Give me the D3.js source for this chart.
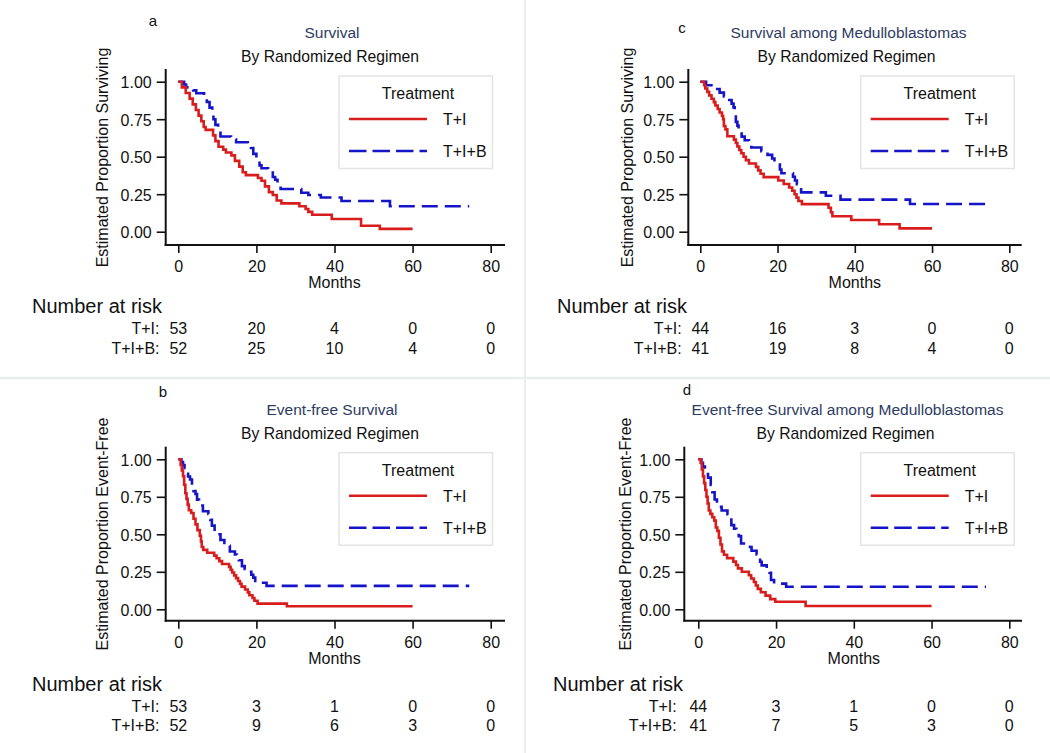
<!DOCTYPE html>
<html>
<head>
<meta charset="utf-8">
<script src="https://cdn.jsdelivr.net/npm/d3@7"></script>
<style>
  html, body { margin: 0; padding: 0; background: #fff; }
  svg text { font-family: "Liberation Sans", Arial, sans-serif; }
</style>
</head>
<body>
<svg id="chart" width="1050" height="753"></svg>
<script>
// ---------------- DATA ----------------
const panelLetters = ["a", "b", "c", "d"];
const panelTitles = ["Survival", "Event-free Survival", "Survival among Medulloblastomas", "Event-free Survival among Medulloblastomas"];
const subTitle = "By Randomized Regimen";
const yLabels = ["Estimated Proportion Surviving", "Estimated Proportion Event-Free", "Estimated Proportion Surviving", "Estimated Proportion Event-Free"];
const xLabel = "Months";
const xTicks = [0, 20, 40, 60, 80];
const yTicks = [0, 0.25, 0.5, 0.75, 1];
const seriesNames = ["T+I", "T+I+B"];
const legendTitle = "Treatment";
const riskTitle = "Number at risk";
const riskTimes = [0, 20, 40, 60, 80];

// Kaplan-Meier steps: [month, estimate from that month on]
const osAllTI = [[0,1],[0.9,0.962],[1.9,0.925],[2.9,0.887],[3.7,0.849],[4.5,0.811],[5.2,0.774],[5.9,0.736],[6.5,0.698],[7.0,0.679],[8.9,0.642],[9.5,0.604],[10.3,0.566],[11.5,0.547],[12.2,0.528],[13.6,0.509],[14.5,0.472],[15.6,0.434],[16.5,0.396],[17.3,0.377],[20.4,0.358],[21.3,0.34],[22.2,0.302],[23.2,0.264],[24.2,0.245],[25.2,0.208],[26.4,0.189],[31.0,0.17],[32.6,0.151],[33.3,0.132],[34.3,0.113],[39.3,0.085],[46.8,0.04],[51.6,0.019]];
const osAllTIB = [[0,1],[1.5,0.981],[2.0,0.962],[3.8,0.942],[4.6,0.923],[6.6,0.904],[7.3,0.865],[8.0,0.827],[8.7,0.788],[9.0,0.75],[9.5,0.712],[10.2,0.673],[10.8,0.635],[13.5,0.615],[14.8,0.596],[17.8,0.577],[18.6,0.558],[19.2,0.519],[20.0,0.481],[20.8,0.442],[21.3,0.423],[23.0,0.404],[24.2,0.365],[24.8,0.346],[25.4,0.308],[26.2,0.285],[31.5,0.26],[33.3,0.245],[36.5,0.228],[41.8,0.205],[54.2,0.17]];
const efsAllTI = [[0,1],[0.6,0.962],[0.9,0.925],[1.2,0.887],[1.5,0.83],[1.8,0.774],[2.1,0.736],[2.4,0.698],[2.7,0.66],[3.3,0.642],[3.9,0.604],[4.4,0.566],[4.9,0.528],[5.5,0.491],[5.8,0.453],[6.0,0.415],[6.4,0.396],[7.4,0.377],[9.2,0.358],[9.8,0.34],[10.5,0.321],[11.2,0.302],[13.0,0.283],[13.4,0.264],[13.8,0.245],[14.3,0.226],[14.8,0.208],[15.3,0.189],[15.8,0.17],[16.2,0.151],[17.1,0.132],[17.8,0.113],[18.2,0.094],[19.0,0.075],[19.5,0.057],[20.3,0.038],[27.8,0.02]];
const efsAllTIB = [[0,1],[0.8,0.981],[1.2,0.962],[1.6,0.942],[2.0,0.904],[2.5,0.885],[3.0,0.865],[3.5,0.827],[3.9,0.788],[4.4,0.769],[4.8,0.731],[5.3,0.712],[5.7,0.692],[6.3,0.654],[7.7,0.635],[8.2,0.596],[8.6,0.558],[9.3,0.519],[9.9,0.5],[10.8,0.462],[11.8,0.442],[12.5,0.423],[13.2,0.385],[14.5,0.365],[15.0,0.346],[15.5,0.327],[16.3,0.288],[17.0,0.269],[17.8,0.25],[18.7,0.23],[19.2,0.211],[19.7,0.177],[22.6,0.156]];
const osMedTI = [[0,1],[1.0,0.977],[1.3,0.955],[1.8,0.932],[2.3,0.909],[2.9,0.886],[3.5,0.864],[3.9,0.841],[4.5,0.818],[5.0,0.795],[5.6,0.773],[5.9,0.75],[6.1,0.705],[6.5,0.682],[7.0,0.636],[8.7,0.614],[9.2,0.591],[9.6,0.568],[10.1,0.545],[10.6,0.523],[11.2,0.5],[11.8,0.477],[12.6,0.455],[14.4,0.432],[15.0,0.409],[15.6,0.386],[16.4,0.364],[20.2,0.341],[21.6,0.318],[23.0,0.295],[23.8,0.273],[24.4,0.25],[24.9,0.227],[25.4,0.205],[26.3,0.184],[33.2,0.16],[33.8,0.13],[34.2,0.103],[39.1,0.078],[46.3,0.05],[51.6,0.022]];
const osMedTIB = [[0,1],[1.5,0.976],[4.0,0.951],[5.0,0.927],[6.1,0.902],[7.5,0.878],[8.1,0.854],[8.6,0.829],[8.9,0.78],[9.2,0.732],[9.6,0.707],[9.9,0.683],[10.7,0.634],[11.5,0.61],[12.6,0.585],[13.2,0.561],[15.8,0.537],[17.4,0.512],[18.6,0.488],[19.2,0.463],[20.6,0.415],[21.0,0.39],[24.0,0.366],[24.5,0.341],[25.0,0.317],[25.5,0.293],[26.1,0.262],[32.5,0.24],[36.3,0.214],[54.3,0.185]];
const efsMedTI = [[0,1],[0.6,0.977],[0.9,0.932],[1.2,0.886],[1.5,0.841],[1.8,0.795],[2.1,0.75],[2.4,0.705],[2.7,0.659],[3.1,0.636],[3.6,0.614],[4.1,0.591],[4.5,0.545],[4.9,0.523],[5.3,0.477],[5.7,0.432],[6.1,0.386],[6.6,0.364],[7.4,0.341],[9.0,0.318],[9.7,0.295],[10.2,0.273],[11.2,0.25],[13.0,0.227],[13.6,0.205],[14.3,0.182],[14.8,0.159],[15.3,0.136],[16.1,0.114],[17.3,0.091],[18.5,0.068],[19.8,0.05],[27.6,0.022]];
const efsMedTIB = [[0,1],[0.8,0.976],[1.2,0.951],[1.7,0.902],[2.5,0.878],[3.2,0.829],[3.6,0.78],[4.2,0.732],[4.8,0.707],[5.4,0.683],[6.0,0.659],[7.5,0.634],[8.1,0.61],[8.5,0.561],[9.2,0.537],[9.8,0.512],[10.4,0.488],[11.0,0.439],[13.3,0.415],[13.7,0.39],[15.0,0.366],[15.4,0.341],[15.9,0.317],[16.3,0.293],[17.6,0.268],[18.3,0.244],[18.7,0.195],[19.5,0.171],[22.6,0.15]];

// last follow-up month of each curve
const endTI = [60, 60, 60, 60];
const endTIB = [74.5, 74.5, 74.5, 74];

// numbers at risk at riskTimes
const riskAllTI_OS = [53, 20, 4, 0, 0];
const riskAllTIB_OS = [52, 25, 10, 4, 0];
const riskAllTI_EFS = [53, 3, 1, 0, 0];
const riskAllTIB_EFS = [52, 9, 6, 3, 0];
const riskMedTI_OS = [44, 16, 3, 0, 0];
const riskMedTIB_OS = [41, 19, 8, 4, 0];
const riskMedTI_EFS = [44, 3, 1, 0, 0];
const riskMedTIB_EFS = [41, 7, 5, 3, 0];

const curvesTI = [osAllTI, efsAllTI, osMedTI, efsMedTI];
const curvesTIB = [osAllTIB, efsAllTIB, osMedTIB, efsMedTIB];
const risksTI = [riskAllTI_OS, riskAllTI_EFS, riskMedTI_OS, riskMedTI_EFS];
const risksTIB = [riskAllTIB_OS, riskAllTIB_EFS, riskMedTIB_OS, riskMedTIB_EFS];

// ---------------- LAYOUT ----------------
const RED = "#d91c1c", BLUE = "#1414c8", TITLE_COL = "#2d3b63";
const layouts = [
  {x0:178.3, x80:490.7, yTop:81.7, yBot:231.7, axisY:245, spineX:165.7, spineTop:69, spineRight:505,
   letterX:153, letterY:26, titleX:332, t1Y:38, t2Y:62, ylabX:102, ylabY:157.5,
   legL:339, legT:76, riskX:32, riskLabR:159.5, riskY:313},
  {x0:178.3, x80:490.7, yTop:459.3, yBot:609.3, axisY:620.7, spineX:165.7, spineTop:446.7, spineRight:505,
   letterX:163, letterY:397, titleX:332, t1Y:415, t2Y:438.5, ylabX:102, ylabY:534,
   legL:339, legT:452.7, riskX:32, riskLabR:159.5, riskY:690.7},
  {x0:700.3, x80:1009.3, yTop:81.7, yBot:231.7, axisY:245, spineX:688.3, spineTop:69, spineRight:1021.7,
   letterX:682, letterY:32.5, titleX:848.5, t1Y:38, t2Y:62, ylabX:627, ylabY:157.5,
   legL:860.7, legT:76, riskX:557, riskLabR:681.7, riskY:313},
  {x0:698.3, x80:1009.3, yTop:459.3, yBot:609.3, axisY:620.7, spineX:684.3, spineTop:446.7, spineRight:1022,
   letterX:687, letterY:395, titleX:847.5, t1Y:415, t2Y:438.5, ylabX:625, ylabY:534,
   legL:860.7, legT:452.7, riskX:553, riskLabR:676.7, riskY:690.7}
];

const svg = d3.select("#chart");
svg.append("rect").attr("width", 1050).attr("height", 753).attr("fill", "#fff");

// panel separators
svg.append("line").attr("x1", 0).attr("x2", 1050).attr("y1", 378).attr("y2", 378)
  .attr("stroke", "#e6f0ee").attr("stroke-width", 2.5);
svg.append("line").attr("x1", 525).attr("x2", 525).attr("y1", 0).attr("y2", 753)
  .attr("stroke", "#ececec").attr("stroke-width", 2);

layouts.forEach((L, i) => {
  const g = svg.append("g");
  const x = d3.scaleLinear().domain([0, 80]).range([L.x0, L.x80]);
  const y = d3.scaleLinear().domain([0, 1]).range([L.yBot, L.yTop]);

  // letter and titles
  g.append("text").attr("x", L.letterX).attr("y", L.letterY).attr("font-size", 15)
    .attr("text-anchor", "middle").attr("fill", "#111").text(panelLetters[i]);
  g.append("text").attr("x", L.titleX).attr("y", L.t1Y).attr("font-size", 15.5)
    .attr("text-anchor", "middle").attr("fill", TITLE_COL).text(panelTitles[i]);
  g.append("text").attr("x", L.titleX - 2).attr("y", L.t2Y).attr("font-size", 15.7)
    .attr("text-anchor", "middle").attr("fill", "#111").text(subTitle);

  // y axis
  const yAx = g.append("g").attr("transform", `translate(${L.spineX},0)`)
    .call(d3.axisLeft(y).tickValues(yTicks).tickFormat(d3.format(".2f")).tickSize(9).tickPadding(5).tickSizeOuter(0));
  yAx.select(".domain").remove();
  yAx.selectAll(".tick line").attr("stroke", "#111").attr("stroke-width", 1.6);
  yAx.selectAll(".tick text").attr("font-size", 16).attr("fill", "#111").attr("dy", "0.38em");

  // x axis
  const xAx = g.append("g").attr("transform", `translate(0,${L.axisY})`)
    .call(d3.axisBottom(x).tickValues(xTicks).tickSize(8).tickPadding(7.5).tickSizeOuter(0));
  xAx.select(".domain").remove();
  xAx.selectAll(".tick line").attr("stroke", "#111").attr("stroke-width", 1.6);
  xAx.selectAll(".tick text").attr("font-size", 16).attr("fill", "#111");

  // spines
  g.append("line").attr("x1", L.spineX).attr("x2", L.spineX).attr("y1", L.spineTop).attr("y2", L.axisY + 1)
    .attr("stroke", "#111").attr("stroke-width", 2);
  g.append("line").attr("x1", L.spineX - 1).attr("x2", L.spineRight).attr("y1", L.axisY).attr("y2", L.axisY)
    .attr("stroke", "#111").attr("stroke-width", 2);

  // axis labels
  g.append("text").attr("transform", `translate(${L.ylabX},${L.ylabY}) rotate(-90)`)
    .attr("text-anchor", "middle").attr("dy", "0.35em").attr("font-size", 16).attr("fill", "#111").text(yLabels[i]);
  g.append("text").attr("x", (x(0) + x(80)) / 2).attr("y", L.axisY + 43).attr("text-anchor", "middle")
    .attr("font-size", 16).attr("fill", "#111").text(xLabel);

  // curves
  const line = d3.line().x(d => x(d[0])).y(d => y(d[1])).curve(d3.curveStepAfter);
  const withEnd = (arr, end) => arr.concat([[end, arr[arr.length - 1][1]]]);
  g.append("path").datum(withEnd(curvesTIB[i], endTIB[i])).attr("d", line)
    .attr("fill", "none").attr("stroke", BLUE).attr("stroke-width", 2.6).attr("stroke-dasharray", "16,7");
  g.append("path").datum(withEnd(curvesTI[i], endTI[i])).attr("d", line)
    .attr("fill", "none").attr("stroke", RED).attr("stroke-width", 2.6);

  // legend
  const lg = g.append("g").attr("transform", `translate(${L.legL},${L.legT})`);
  lg.append("rect").attr("x", 0).attr("y", 0).attr("width", 153.5).attr("height", 92.5)
    .attr("fill", "#fff").attr("stroke", "#e4e4e4").attr("stroke-width", 1.5);
  lg.append("text").attr("x", 79).attr("y", 23).attr("text-anchor", "middle").attr("font-size", 16)
    .attr("fill", "#111").text(legendTitle);
  lg.append("line").attr("x1", 10).attr("x2", 88).attr("y1", 43).attr("y2", 43)
    .attr("stroke", RED).attr("stroke-width", 2.6);
  lg.append("text").attr("x", 104).attr("y", 49).attr("font-size", 16).attr("fill", "#111").text(seriesNames[0]);
  lg.append("line").attr("x1", 10).attr("x2", 88).attr("y1", 75).attr("y2", 75)
    .attr("stroke", BLUE).attr("stroke-width", 2.6).attr("stroke-dasharray", "17.5,6");
  lg.append("text").attr("x", 104).attr("y", 81).attr("font-size", 16).attr("fill", "#111").text(seriesNames[1]);

  // number at risk
  g.append("text").attr("x", L.riskX).attr("y", L.riskY).attr("font-size", 20).attr("fill", "#111").text(riskTitle);
  const rows = [risksTI[i], risksTIB[i]];
  rows.forEach((vals, r) => {
    const ry = L.riskY + 21 + r * 19.7;
    g.append("text").attr("x", L.riskLabR).attr("y", ry).attr("text-anchor", "end").attr("font-size", 16)
      .attr("fill", "#111").text(seriesNames[r] + ":");
    g.selectAll(null).data(vals).enter().append("text")
      .attr("x", (d, k) => x(riskTimes[k])).attr("y", ry).attr("text-anchor", "middle")
      .attr("font-size", 16).attr("fill", "#111").text(d => d);
  });
});
</script>
</body>
</html>
